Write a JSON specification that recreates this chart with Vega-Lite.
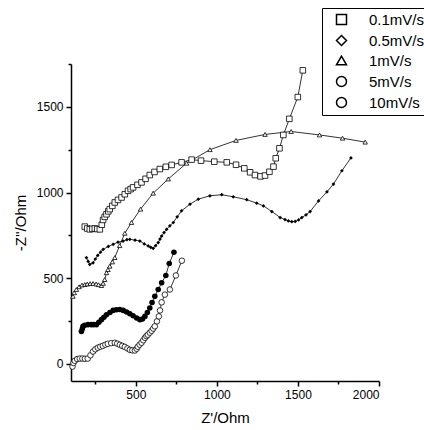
{
  "$schema": "https://vega.github.io/schema/vega-lite/v6.json",
  "width": 308,
  "height": 317,
  "autosize": "none",
  "padding": {"left": 71, "top": 64, "right": 45, "bottom": 49},
  "background": "white",
  "config": {
    "view": {"stroke": null},
    "font": "Liberation Sans",
    "axis": {
      "grid": false,
      "domainColor": "black",
      "domainWidth": 1.5,
      "tickColor": "black",
      "tickWidth": 1.5,
      "labelFont": "Liberation Sans",
      "labelFontSize": 12,
      "labelColor": "black",
      "titleFont": "Liberation Sans",
      "titleFontSize": 15,
      "titleFontWeight": "normal",
      "titleColor": "black"
    },
    "legend": {
      "labelFont": "Liberation Sans",
      "labelFontSize": 15,
      "labelColor": "black"
    }
  },
  "datasets": {
    "pts": [
      {"series": "0.1mV/s", "x": 185, "y": 801}, {"series": "0.1mV/s", "x": 200, "y": 790}, {"series": "0.1mV/s", "x": 216, "y": 785}, {"series": "0.1mV/s", "x": 232, "y": 788}, {"series": "0.1mV/s", "x": 247, "y": 790}, {"series": "0.1mV/s", "x": 262, "y": 787}, {"series": "0.1mV/s", "x": 278, "y": 785}, {"series": "0.1mV/s", "x": 290, "y": 812}, {"series": "0.1mV/s", "x": 298, "y": 840}, {"series": "0.1mV/s", "x": 308, "y": 858}, {"series": "0.1mV/s", "x": 319, "y": 873}, {"series": "0.1mV/s", "x": 330, "y": 890}, {"series": "0.1mV/s", "x": 339, "y": 903}, {"series": "0.1mV/s", "x": 355, "y": 922}, {"series": "0.1mV/s", "x": 370, "y": 942}, {"series": "0.1mV/s", "x": 390, "y": 957}, {"series": "0.1mV/s", "x": 412, "y": 971}, {"series": "0.1mV/s", "x": 432, "y": 990}, {"series": "0.1mV/s", "x": 452, "y": 1010}, {"series": "0.1mV/s", "x": 468, "y": 1020}, {"series": "0.1mV/s", "x": 483, "y": 1030}, {"series": "0.1mV/s", "x": 510, "y": 1045}, {"series": "0.1mV/s", "x": 535, "y": 1059}, {"series": "0.1mV/s", "x": 560, "y": 1080}, {"series": "0.1mV/s", "x": 586, "y": 1102}, {"series": "0.1mV/s", "x": 615, "y": 1120}, {"series": "0.1mV/s", "x": 648, "y": 1137}, {"series": "0.1mV/s", "x": 685, "y": 1150}, {"series": "0.1mV/s", "x": 721, "y": 1161}, {"series": "0.1mV/s", "x": 782, "y": 1176}, {"series": "0.1mV/s", "x": 844, "y": 1192}, {"series": "0.1mV/s", "x": 902, "y": 1186}, {"series": "0.1mV/s", "x": 984, "y": 1180}, {"series": "0.1mV/s", "x": 1061, "y": 1176}, {"series": "0.1mV/s", "x": 1118, "y": 1162}, {"series": "0.1mV/s", "x": 1169, "y": 1141}, {"series": "0.1mV/s", "x": 1205, "y": 1118}, {"series": "0.1mV/s", "x": 1235, "y": 1102}, {"series": "0.1mV/s", "x": 1269, "y": 1094}, {"series": "0.1mV/s", "x": 1297, "y": 1099}, {"series": "0.1mV/s", "x": 1324, "y": 1121}, {"series": "0.1mV/s", "x": 1349, "y": 1151}, {"series": "0.1mV/s", "x": 1363, "y": 1200}, {"series": "0.1mV/s", "x": 1386, "y": 1258}, {"series": "0.1mV/s", "x": 1410, "y": 1336}, {"series": "0.1mV/s", "x": 1447, "y": 1430}, {"series": "0.1mV/s", "x": 1499, "y": 1557}, {"series": "0.1mV/s", "x": 1530, "y": 1713},

      {"series": "0.5mV/s", "x": 195, "y": 620}, {"series": "0.5mV/s", "x": 206, "y": 598}, {"series": "0.5mV/s", "x": 216, "y": 580}, {"series": "0.5mV/s", "x": 236, "y": 590}, {"series": "0.5mV/s", "x": 250, "y": 612}, {"series": "0.5mV/s", "x": 265, "y": 633}, {"series": "0.5mV/s", "x": 282, "y": 652}, {"series": "0.5mV/s", "x": 298, "y": 668}, {"series": "0.5mV/s", "x": 330, "y": 685}, {"series": "0.5mV/s", "x": 360, "y": 698}, {"series": "0.5mV/s", "x": 390, "y": 710}, {"series": "0.5mV/s", "x": 421, "y": 717}, {"series": "0.5mV/s", "x": 445, "y": 725}, {"series": "0.5mV/s", "x": 463, "y": 727}, {"series": "0.5mV/s", "x": 495, "y": 722}, {"series": "0.5mV/s", "x": 525, "y": 717}, {"series": "0.5mV/s", "x": 552, "y": 700}, {"series": "0.5mV/s", "x": 576, "y": 688}, {"series": "0.5mV/s", "x": 592, "y": 680}, {"series": "0.5mV/s", "x": 607, "y": 674}, {"series": "0.5mV/s", "x": 622, "y": 690}, {"series": "0.5mV/s", "x": 638, "y": 708}, {"series": "0.5mV/s", "x": 649, "y": 728}, {"series": "0.5mV/s", "x": 659, "y": 746}, {"series": "0.5mV/s", "x": 674, "y": 766}, {"series": "0.5mV/s", "x": 690, "y": 785}, {"series": "0.5mV/s", "x": 710, "y": 806}, {"series": "0.5mV/s", "x": 731, "y": 825}, {"series": "0.5mV/s", "x": 755, "y": 858}, {"series": "0.5mV/s", "x": 782, "y": 893}, {"series": "0.5mV/s", "x": 834, "y": 932}, {"series": "0.5mV/s", "x": 885, "y": 961}, {"series": "0.5mV/s", "x": 957, "y": 981}, {"series": "0.5mV/s", "x": 1030, "y": 987}, {"series": "0.5mV/s", "x": 1101, "y": 975}, {"series": "0.5mV/s", "x": 1184, "y": 958}, {"series": "0.5mV/s", "x": 1246, "y": 938}, {"series": "0.5mV/s", "x": 1287, "y": 922}, {"series": "0.5mV/s", "x": 1339, "y": 889}, {"series": "0.5mV/s", "x": 1390, "y": 854}, {"series": "0.5mV/s", "x": 1420, "y": 842}, {"series": "0.5mV/s", "x": 1441, "y": 834}, {"series": "0.5mV/s", "x": 1462, "y": 830}, {"series": "0.5mV/s", "x": 1483, "y": 831}, {"series": "0.5mV/s", "x": 1504, "y": 840}, {"series": "0.5mV/s", "x": 1524, "y": 854}, {"series": "0.5mV/s", "x": 1550, "y": 870}, {"series": "0.5mV/s", "x": 1575, "y": 889}, {"series": "0.5mV/s", "x": 1627, "y": 951}, {"series": "0.5mV/s", "x": 1679, "y": 1004}, {"series": "0.5mV/s", "x": 1719, "y": 1049}, {"series": "0.5mV/s", "x": 1771, "y": 1127}, {"series": "0.5mV/s", "x": 1827, "y": 1202},

      {"series": "1mV/s", "x": 112, "y": 394}, {"series": "1mV/s", "x": 120, "y": 415}, {"series": "1mV/s", "x": 133, "y": 434}, {"series": "1mV/s", "x": 150, "y": 450}, {"series": "1mV/s", "x": 168, "y": 460}, {"series": "1mV/s", "x": 185, "y": 463}, {"series": "1mV/s", "x": 200, "y": 466}, {"series": "1mV/s", "x": 218, "y": 468}, {"series": "1mV/s", "x": 236, "y": 469}, {"series": "1mV/s", "x": 255, "y": 466}, {"series": "1mV/s", "x": 270, "y": 462}, {"series": "1mV/s", "x": 288, "y": 457}, {"series": "1mV/s", "x": 298, "y": 470}, {"series": "1mV/s", "x": 308, "y": 492}, {"series": "1mV/s", "x": 319, "y": 532}, {"series": "1mV/s", "x": 328, "y": 550}, {"series": "1mV/s", "x": 339, "y": 570}, {"series": "1mV/s", "x": 355, "y": 595}, {"series": "1mV/s", "x": 370, "y": 620}, {"series": "1mV/s", "x": 400, "y": 690}, {"series": "1mV/s", "x": 432, "y": 762}, {"series": "1mV/s", "x": 473, "y": 825}, {"series": "1mV/s", "x": 529, "y": 903}, {"series": "1mV/s", "x": 607, "y": 996}, {"series": "1mV/s", "x": 700, "y": 1079}, {"series": "1mV/s", "x": 813, "y": 1171}, {"series": "1mV/s", "x": 957, "y": 1250}, {"series": "1mV/s", "x": 1118, "y": 1304}, {"series": "1mV/s", "x": 1297, "y": 1339}, {"series": "1mV/s", "x": 1458, "y": 1356}, {"series": "1mV/s", "x": 1633, "y": 1336}, {"series": "1mV/s", "x": 1775, "y": 1317}, {"series": "1mV/s", "x": 1915, "y": 1294},

      {"series": "5mV/s", "x": 164, "y": 189}, {"series": "5mV/s", "x": 170, "y": 205}, {"series": "5mV/s", "x": 174, "y": 219}, {"series": "5mV/s", "x": 185, "y": 225}, {"series": "5mV/s", "x": 205, "y": 229}, {"series": "5mV/s", "x": 225, "y": 229}, {"series": "5mV/s", "x": 240, "y": 229}, {"series": "5mV/s", "x": 257, "y": 229}, {"series": "5mV/s", "x": 272, "y": 243}, {"series": "5mV/s", "x": 288, "y": 258}, {"series": "5mV/s", "x": 303, "y": 272}, {"series": "5mV/s", "x": 319, "y": 287}, {"series": "5mV/s", "x": 340, "y": 300}, {"series": "5mV/s", "x": 360, "y": 312}, {"series": "5mV/s", "x": 380, "y": 316}, {"series": "5mV/s", "x": 401, "y": 317}, {"series": "5mV/s", "x": 422, "y": 312}, {"series": "5mV/s", "x": 443, "y": 303}, {"series": "5mV/s", "x": 463, "y": 292}, {"series": "5mV/s", "x": 483, "y": 281}, {"series": "5mV/s", "x": 505, "y": 268}, {"series": "5mV/s", "x": 525, "y": 258}, {"series": "5mV/s", "x": 541, "y": 262}, {"series": "5mV/s", "x": 556, "y": 277}, {"series": "5mV/s", "x": 571, "y": 300}, {"series": "5mV/s", "x": 586, "y": 326}, {"series": "5mV/s", "x": 600, "y": 358}, {"series": "5mV/s", "x": 617, "y": 394}, {"series": "5mV/s", "x": 638, "y": 434}, {"series": "5mV/s", "x": 659, "y": 473}, {"series": "5mV/s", "x": 685, "y": 516}, {"series": "5mV/s", "x": 706, "y": 586}, {"series": "5mV/s", "x": 735, "y": 651},

      {"series": "10mV/s", "x": 109, "y": -16}, {"series": "10mV/s", "x": 115, "y": 5}, {"series": "10mV/s", "x": 123, "y": 18}, {"series": "10mV/s", "x": 138, "y": 28}, {"series": "10mV/s", "x": 154, "y": 31}, {"series": "10mV/s", "x": 170, "y": 31}, {"series": "10mV/s", "x": 186, "y": 30}, {"series": "10mV/s", "x": 203, "y": 31}, {"series": "10mV/s", "x": 220, "y": 50}, {"series": "10mV/s", "x": 236, "y": 72}, {"series": "10mV/s", "x": 250, "y": 85}, {"series": "10mV/s", "x": 265, "y": 94}, {"series": "10mV/s", "x": 280, "y": 100}, {"series": "10mV/s", "x": 296, "y": 105}, {"series": "10mV/s", "x": 312, "y": 112}, {"series": "10mV/s", "x": 327, "y": 117}, {"series": "10mV/s", "x": 348, "y": 121}, {"series": "10mV/s", "x": 370, "y": 123}, {"series": "10mV/s", "x": 385, "y": 118}, {"series": "10mV/s", "x": 401, "y": 111}, {"series": "10mV/s", "x": 416, "y": 105}, {"series": "10mV/s", "x": 432, "y": 99}, {"series": "10mV/s", "x": 448, "y": 90}, {"series": "10mV/s", "x": 463, "y": 82}, {"series": "10mV/s", "x": 478, "y": 79}, {"series": "10mV/s", "x": 494, "y": 78}, {"series": "10mV/s", "x": 505, "y": 88}, {"series": "10mV/s", "x": 512, "y": 100}, {"series": "10mV/s", "x": 523, "y": 112}, {"series": "10mV/s", "x": 535, "y": 123}, {"series": "10mV/s", "x": 546, "y": 138}, {"series": "10mV/s", "x": 556, "y": 152}, {"series": "10mV/s", "x": 565, "y": 162}, {"series": "10mV/s", "x": 574, "y": 170}, {"series": "10mV/s", "x": 586, "y": 182}, {"series": "10mV/s", "x": 597, "y": 193}, {"series": "10mV/s", "x": 607, "y": 206}, {"series": "10mV/s", "x": 617, "y": 219}, {"series": "10mV/s", "x": 630, "y": 248}, {"series": "10mV/s", "x": 642, "y": 277}, {"series": "10mV/s", "x": 649, "y": 312}, {"series": "10mV/s", "x": 659, "y": 359}, {"series": "10mV/s", "x": 679, "y": 404}, {"series": "10mV/s", "x": 710, "y": 434}, {"series": "10mV/s", "x": 747, "y": 516}, {"series": "10mV/s", "x": 784, "y": 602}
    ]
  },
  "data": {"name": "pts"},
  "encoding": {
    "x": {
      "field": "x", "type": "quantitative",
      "scale": {"domain": [100, 2000], "nice": false, "zero": false},
      "axis": {
        "title": "Z'/Ohm",
        "values": [250, 500, 750, 1000, 1250, 1500, 1750, 2000],
        "format": "d",
        "labelExpr": "datum.value % 500 === 0 ? datum.label : ''",
        "tickSize": {"expr": "datum.value % 500 === 0 ? 5 : 3"},
        "labelPadding": 3,
        "titlePadding": 10
      }
    },
    "y": {
      "field": "y", "type": "quantitative",
      "scale": {"domain": [-100, 1750], "nice": false, "zero": false},
      "axis": {
        "title": "-Z''/Ohm",
        "values": [0, 250, 500, 750, 1000, 1250, 1500, 1750],
        "format": "d",
        "labelExpr": "datum.value % 500 === 0 ? datum.label : ''",
        "tickSize": {"expr": "datum.value % 500 === 0 ? 5 : 3"},
        "labelPadding": 3,
        "titlePadding": 8
      }
    },
    "shape": {
      "field": "series", "type": "nominal",
      "scale": {
        "domain": ["0.1mV/s", "0.5mV/s", "1mV/s", "5mV/s", "10mV/s"],
        "range": ["square", "diamond", "triangle-up", "circle", "circle"]
      },
      "legend": {
        "title": null,
        "orient": "none",
        "legendX": 251,
        "legendY": -56,
        "strokeColor": "black",
        "padding": 4,
        "rowPadding": 4,
        "symbolOffset": 8,
        "labelOffset": 20,
        "encode": {
          "symbols": {
            "fill": {"value": {"expr": "datum.value === '0.5mV/s' || datum.value === '5mV/s' ? 'black' : 'white'"}},
            "stroke": {"value": "black"},
            "size": {"value": 30},
            "strokeWidth": {"value": 1}
          }
        }
      }
    }
  },
  "layer": [
    {
      "mark": {"type": "line", "color": "black", "strokeWidth": 0.8},
      "encoding": {"detail": {"field": "series"}, "shape": null}
    },
    {
      "transform": [{"filter": {"field": "series", "oneOf": ["0.1mV/s", "10mV/s"]}}],
      "mark": {"type": "point", "filled": false, "fill": "white", "stroke": "black", "strokeWidth": 0.8, "size": 31, "opacity": 1}
    },
    {
      "transform": [{"filter": {"field": "series", "oneOf": ["1mV/s"]}}],
      "mark": {"type": "point", "filled": false, "fill": "white", "stroke": "black", "strokeWidth": 0.8, "size": 20, "opacity": 1}
    },
    {
      "transform": [{"filter": {"field": "series", "oneOf": ["0.5mV/s"]}}],
      "mark": {"type": "point", "filled": true, "color": "black", "size": 14, "opacity": 1}
    },
    {
      "transform": [{"filter": {"field": "series", "oneOf": ["5mV/s"]}}],
      "mark": {"type": "point", "filled": true, "color": "black", "size": 31, "opacity": 1}
    }
  ]
}
